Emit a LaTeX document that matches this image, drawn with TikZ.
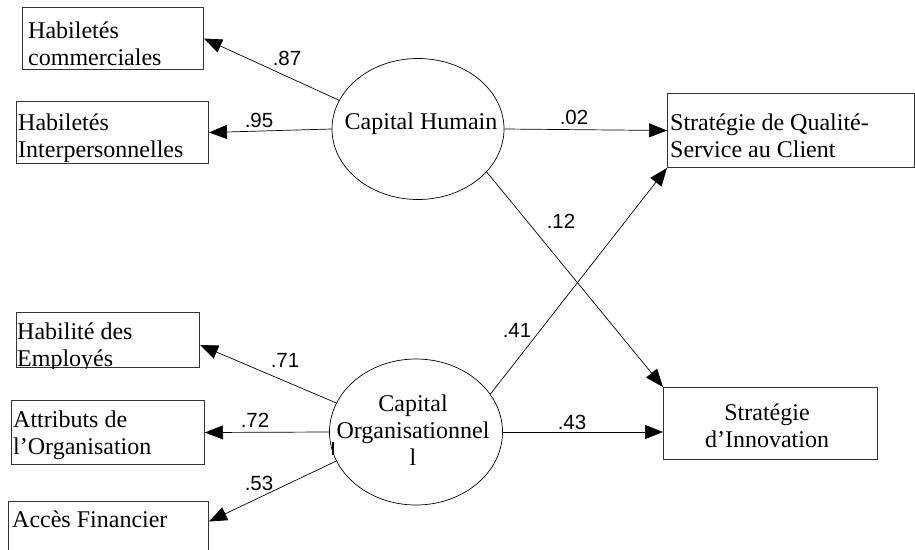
\documentclass[tikz,border=0pt]{standalone}
\usepackage{fontspec}
\setmainfont{Liberation Serif}
\newfontfamily\lblfont{Liberation Sans}
\usetikzlibrary{arrows.meta,shapes.geometric}
\begin{document}
\begin{tikzpicture}[x=1pt,y=-1pt,
 boxnode/.style={draw=black!80, line width=1pt, rectangle, inner sep=0pt, anchor=north west},
 latent/.style={draw, ellipse, line width=0.7pt, inner sep=0pt},
 txt/.style={font=\fontsize{24}{27}\selectfont, inner sep=0pt, align=left, anchor=base west},
 ctxt/.style={font=\fontsize{24}{27}\selectfont, inner sep=0pt, align=center, anchor=base},
 pathline/.style={line width=0.7pt, -{Triangle[length=18pt,width=14pt]}},
 coef/.style={font=\lblfont\fontsize{20.5}{21}\selectfont, inner sep=0pt}]
\useasboundingbox (0,0) rectangle (915,549);

% boxes
\node[boxnode, minimum width=181pt, minimum height=62pt] (b1) at (22,7) {};
\node[boxnode, minimum width=192pt, minimum height=62pt] (b2) at (16,101) {};
\node[boxnode, minimum width=247pt, minimum height=74pt] (b3) at (667,93) {};
\node[boxnode, minimum width=214pt, minimum height=72pt] (b4) at (663,387) {};
\node[boxnode, minimum width=183pt, minimum height=55pt] (b5) at (16,312) {};
\node[boxnode, minimum width=193pt, minimum height=64pt] (b6) at (11,400) {};
\node[boxnode, minimum width=200pt, minimum height=70pt] (b7) at (8,501) {};

% box texts (anchor = baseline of last line)
\node[txt] (t1) at (28,65) {Habiletés\\commerciales};
\node[txt] (t2) at (18,157) {Habiletés\\Interpersonnelles};
\node[txt] (t3) at (670,157) {Stratégie de Qualité-\\Service au Client};
\node[ctxt] (t4) at (767,447) {Stratégie\\d’Innovation};
\begin{scope}
\clip (b5.north west) rectangle (b5.south east);
\node[txt] (t5) at (17,366) {Habilité des\\Employés};
\end{scope}
\node[txt] (t6) at (13,454) {Attributs de\\l’Organisation};
\node[txt] (t7) at (12,527) {Accès Financier};

% latent variables
\node[latent, minimum width=172pt, minimum height=141pt] (ch) at (418,129) {};
\node[ctxt] (cht) at (421,129) {Capital Humain};
\node[latent, minimum width=173pt, minimum height=146pt] (co) at (416,432) {};
\node[ctxt] (cot) at (413,465) {Capital\\Organisationnel\\l};
\draw[line width=1.6pt] (333,442) -- (333,455);

% paths
\draw[pathline] (ch.160) -- (b1.east);
\draw[pathline] (ch.west) -- (b2.east);
\draw[pathline] (ch.east) -- (b3.west);
\draw[pathline] (ch.-32) -- (b4.north west);
\draw[pathline] (co.27) -- (b3.south west);
\draw[pathline] (co.east) -- (co.east -| b4.west);
\draw[pathline] (co.160) -- ([yshift=-5pt]b5.east);
\draw[pathline] (co.west) -- (b6.east);
\draw[pathline] (co.200) -- ([yshift=15pt]b7.east);

% coefficients
\node[coef] (c1) at (287,58) {.87};
\node[coef] (c2) at (259,120) {.95};
\node[coef] (c3) at (574,117) {.02};
\node[coef] (c4) at (561,221) {.12};
\node[coef] (c5) at (517,330) {.41};
\node[coef] (c6) at (572,422) {.43};
\node[coef] (c7) at (285,360) {.71};
\node[coef] (c8) at (255,420) {.72};
\node[coef] (c9) at (259,483) {.53};
\end{tikzpicture}
\end{document}
